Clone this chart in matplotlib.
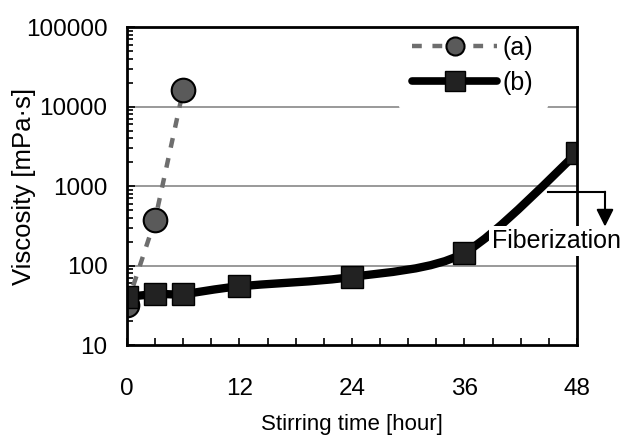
import numpy as np
import matplotlib
matplotlib.use("Agg")
import matplotlib.pyplot as plt
from matplotlib.path import Path
from matplotlib.patches import PathPatch
from matplotlib.lines import Line2D

# data
time_a = [0, 3, 6]
visc_a = [32, 375, 16000]

time_b = [0, 3, 6, 12, 24, 36, 48]
visc_b = [40, 44, 44, 55, 72, 145, 2600]

xticks = [0, 12, 24, 36, 48]
yticks = [10, 100, 1000, 10000, 100000]
ytick_labels = ["10", "100", "1000", "10000", "100000"]

plt.rcParams['font.family'] = ['Liberation Sans', 'DejaVu Sans']


def smooth_path(xs, ys, tension=1 / 6):
    # Catmull-Rom style bezier, done in log space for y
    lx = np.array(xs, float)
    ly = np.log10(ys)
    verts = [(lx[0], ly[0])]
    codes = [Path.MOVETO]
    n = len(lx)
    for i in range(n - 1):
        p0 = (lx[max(i - 1, 0)], ly[max(i - 1, 0)])
        p1 = (lx[i], ly[i])
        p2 = (lx[i + 1], ly[i + 1])
        p3 = (lx[min(i + 2, n - 1)], ly[min(i + 2, n - 1)])
        c1 = (p1[0] + (p2[0] - p0[0]) * tension, p1[1] + (p2[1] - p0[1]) * tension)
        c2 = (p2[0] - (p3[0] - p1[0]) * tension, p2[1] - (p3[1] - p1[1]) * tension)
        verts += [c1, c2, p2]
        codes += [Path.CURVE4] * 3
    verts = [(x, 10 ** y) for x, y in verts]
    return Path(verts, codes)


fig = plt.figure(figsize=(6.25, 4.38), dpi=100)
ax = fig.add_axes([0.203, 0.212, 0.72, 0.726])

ax.set_yscale('log')
ax.set_xlim(0, 48)
ax.set_ylim(10, 100000)

for v in [100, 1000, 10000]:
    ax.axhline(v, color='#888888', lw=1.2, zorder=1)

dash = (0, (2.2, 2.4))

# series (a)
ax.plot(time_a, visc_a, color='#6e6e6e', lw=3.2, ls=dash, zorder=2)
ax.plot(time_a, visc_a, ls='none', marker='o', ms=17, mfc='#5a5a5a',
        mec='black', mew=1.5, zorder=3)

# series (b), smoothed line
patch = PathPatch(smooth_path(time_b, visc_b, tension=0.14), fill=False, lw=6,
                  edgecolor='black', capstyle='round', zorder=4)
ax.add_patch(patch)
ax.plot(time_b, visc_b, ls='none', marker='s', ms=16, mfc='#222222',
        mec='black', mew=1, zorder=5)

ax.set_xticks(xticks)
ax.set_xticks(np.arange(0, 49, 3), minor=True)
ax.set_yticks(yticks)
ax.set_yticklabels(ytick_labels)
ax.tick_params(axis='both', which='both', direction='in', labelsize=17.5, width=1.2)
ax.tick_params(axis='x', which='both', length=5, pad=24)
ax.tick_params(axis='y', which='major', length=6, pad=14)
ax.tick_params(axis='y', which='minor', length=4)
for s in ax.spines.values():
    s.set_linewidth(2)
    s.set_zorder(7)

ax.set_xlabel('Stirring time [hour]', fontsize=16, va='center')
ax.xaxis.set_label_coords(0.5, -0.25)
ax.set_ylabel('Viscosity [mPa·s]', fontsize=18.5, va='center')
ax.yaxis.set_label_coords(-0.229, 0.5)

# legend
h_a = Line2D([], [], color='#6e6e6e', lw=3.2, ls=dash, marker='o',
             ms=13, mfc='#5a5a5a', mec='black', mew=1.5)
h_b = Line2D([], [], color='black', lw=5.5, marker='s', ms=15,
             mfc='#222222', mec='black', solid_capstyle='round')
leg = ax.legend([h_a, h_b], ['(a)', '(b)'], loc='upper left',
                bbox_to_anchor=(0.604, 1.016), fontsize=18, frameon=True,
                handlelength=3.4, handletextpad=0.2, labelspacing=0.45,
                borderpad=0.55, framealpha=1, borderaxespad=0)
leg.get_frame().set_edgecolor('white')
leg.set_zorder(6)

# fiberization marker
ax.plot([44.9, 51.0], [840, 840], color='black', lw=1.5, clip_on=False, zorder=8)
ax.annotate('', xy=(51.0, 310), xytext=(51.0, 850),
            arrowprops=dict(arrowstyle='-|>', color='black', lw=1.5,
                            mutation_scale=26, shrinkA=0, shrinkB=0),
            annotation_clip=False, zorder=8)
ax.text(38.9, 205, 'Fiberization', fontsize=18, ha='left', va='center',
        zorder=9, bbox=dict(facecolor='white', edgecolor='none', pad=2))

fig.savefig('out.png', dpi=100)
